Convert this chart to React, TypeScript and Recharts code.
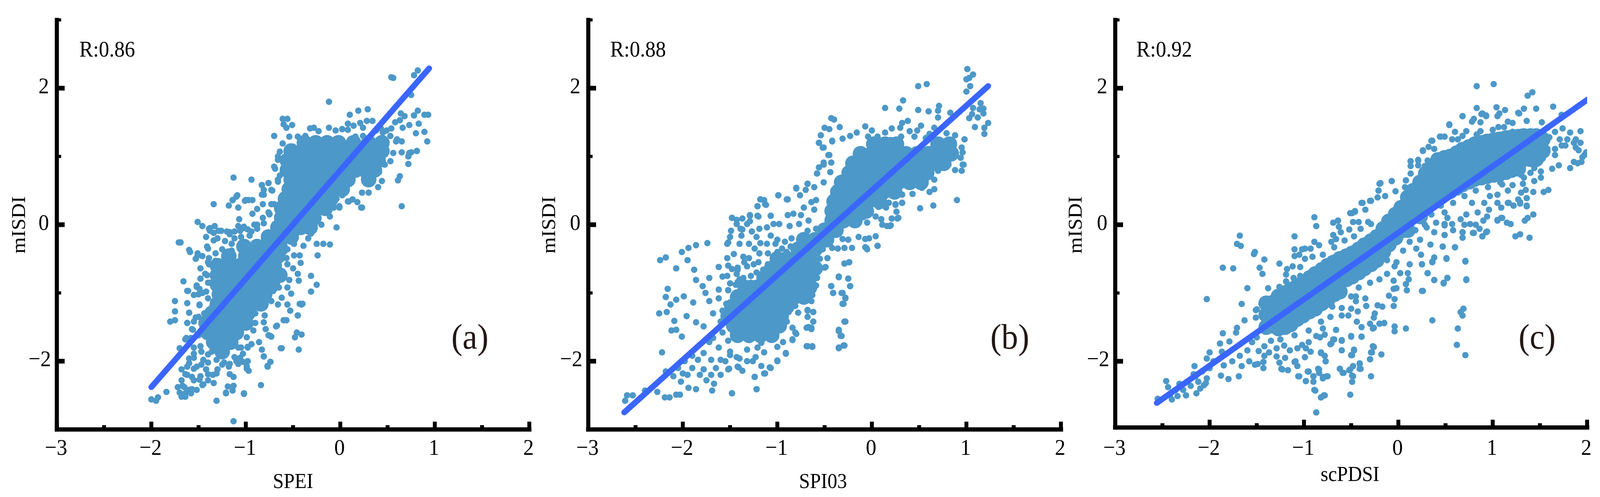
import React from 'react';
import { ScatterChart, Scatter, XAxis, YAxis } from 'recharts';

const BLACK = '#000000';
const DOT = '#4c98c8';
const LINE = '#3a66ff';
const FONT = '"Liberation Serif", serif';
const SQUEEZE = 0.93;
const xTicks = [-3, -2.5, -2, -1.5, -1, -0.5, 0, 0.5, 1, 1.5, 2];
const yTicks = [-3, -2, -1, 0, 1, 2, 3];
const xMajor = [-3, -2, -1, 0, 1, 2];
const yMajor = [-2, 0, 2];

const speiLine = [[-2, -2.38], [0.94, 2.29]];
const spi03Line = [[-2.62, -2.75], [1.23, 2.03]];
const scpdsiLine = [[-2.56, -2.61], [2, 1.83]];

const speiCoreRows: [number, number[]][] = [
  [1.2, [-0.38, -0.26, -0.14, -0.02, 0.14, 0.3, 0.44]],
  [1.08, [-0.52, -0.4, -0.28, -0.16, -0.04, 0.08, 0.2, 0.32, 0.44]],
  [0.94, [-0.56, -0.44, -0.32, -0.2, -0.08, 0.04, 0.16, 0.28, 0.4]],
  [0.8, [-0.56, -0.44, -0.32, -0.2, -0.08, 0.04, 0.16, 0.26, 0.36]],
  [0.66, [-0.52, -0.4, -0.28, -0.16, -0.04, 0.08, 0.3]],
  [0.52, [-0.54, -0.42, -0.3, -0.18, -0.06, 0.02]],
  [0.38, [-0.58, -0.46, -0.34, -0.22, -0.1]],
  [0.24, [-0.62, -0.5, -0.38, -0.26, -0.16]],
  [0.1, [-0.62, -0.5, -0.38, -0.28]],
  [-0.04, [-0.66, -0.54, -0.42, -0.32]],
  [-0.18, [-0.76, -0.64, -0.52]],
  [-0.32, [-1.02, -0.88, -0.76, -0.64]],
  [-0.46, [-1.18, -1.0, -0.88, -0.76, -0.66]],
  [-0.6, [-1.3, -1.18, -1.06, -0.94, -0.82, -0.7]],
  [-0.74, [-1.3, -1.2, -1.08, -0.96, -0.84, -0.72, -0.64]],
  [-0.88, [-1.3, -1.18, -1.06, -0.94, -0.82, -0.72]],
  [-1.02, [-1.28, -1.16, -1.04, -0.92, -0.8]],
  [-1.16, [-1.3, -1.18, -1.06, -0.94, -0.84]],
  [-1.3, [-1.36, -1.3, -1.18, -1.06, -0.98]],
  [-1.44, [-1.42, -1.36, -1.24, -1.12, -1.0]],
  [-1.58, [-1.4, -1.34, -1.22, -1.1]],
  [-1.72, [-1.34, -1.28, -1.16]],
  [-1.86, [-1.25]],
];
const spi03CoreRows: [number, number[]][] = [
  [1.18, [0.02, 0.14, 0.26, 0.7, 0.82]],
  [1.04, [-0.12, 0.0, 0.12, 0.24, 0.36, 0.48, 0.6, 0.72, 0.84]],
  [0.9, [-0.2, -0.08, 0.04, 0.16, 0.28, 0.4, 0.52, 0.64, 0.76]],
  [0.76, [-0.24, -0.12, 0, 0.12, 0.24, 0.36, 0.48, 0.58]],
  [0.62, [-0.32, -0.2, -0.08, 0.04, 0.16, 0.28, 0.4, 0.52]],
  [0.48, [-0.36, -0.24, -0.12, 0, 0.12, 0.24]],
  [0.34, [-0.4, -0.28, -0.16, -0.04, 0.08]],
  [0.2, [-0.42, -0.3, -0.18, -0.06]],
  [0.06, [-0.42, -0.3, -0.18]],
  [-0.08, [-0.5, -0.38]],
  [-0.22, [-0.72, -0.6, -0.48]],
  [-0.36, [-0.78, -0.66, -0.6]],
  [-0.5, [-1.0, -0.9, -0.78, -0.66]],
  [-0.64, [-1.06, -0.94, -0.82, -0.7, -0.6]],
  [-0.78, [-1.14, -1.02, -0.9, -0.78, -0.66]],
  [-0.92, [-1.34, -1.22, -1.1, -0.98, -0.86, -0.74, -0.66]],
  [-1.06, [-1.42, -1.3, -1.18, -1.06, -0.94, -0.82, -0.72]],
  [-1.2, [-1.48, -1.36, -1.24, -1.12, -1.0, -0.9]],
  [-1.34, [-1.52, -1.4, -1.28, -1.16, -1.04, -0.96]],
  [-1.48, [-1.46, -1.34, -1.22, -1.1, -0.98]],
  [-1.62, [-1.42, -1.3, -1.18, -1.06]],
];
const scpdsiCoreCols: [number, number[]][] = [
  [-1.4, [-1.15, -1.32, -1.5]],
  [-1.33, [-1.14, -1.31, -1.48]],
  [-1.27, [-1.05, -1.22, -1.39, -1.52]],
  [-1.2, [-1.0, -1.17, -1.34, -1.5]],
  [-1.14, [-0.95, -1.12, -1.29, -1.46]],
  [-1.07, [-0.9, -1.07, -1.24, -1.38]],
  [-1.01, [-0.85, -1.02, -1.19, -1.33]],
  [-0.94, [-0.78, -0.95, -1.12, -1.27]],
  [-0.88, [-0.72, -0.89, -1.06, -1.23]],
  [-0.81, [-0.66, -0.83, -1.0, -1.15]],
  [-0.75, [-0.6, -0.77, -0.94, -1.1]],
  [-0.68, [-0.55, -0.72, -0.89, -1.02]],
  [-0.62, [-0.5, -0.67, -0.84, -0.98]],
  [-0.55, [-0.46, -0.63, -0.8]],
  [-0.49, [-0.42, -0.59, -0.76]],
  [-0.42, [-0.36, -0.53, -0.7]],
  [-0.36, [-0.3, -0.47, -0.64]],
  [-0.29, [-0.24, -0.41, -0.58]],
  [-0.23, [-0.18, -0.35, -0.52]],
  [-0.16, [-0.06, -0.23, -0.4]],
  [-0.1, [0.05, -0.12, -0.29]],
  [-0.03, [0.15, -0.02, -0.19]],
  [0.03, [0.25, 0.08, -0.09]],
  [0.1, [0.4, 0.23, 0.06, -0.08]],
  [0.16, [0.5, 0.33, 0.16]],
  [0.23, [0.62, 0.45, 0.28, 0.12]],
  [0.29, [0.75, 0.58, 0.41, 0.24]],
  [0.36, [0.85, 0.68, 0.51, 0.34]],
  [0.42, [0.95, 0.78, 0.61, 0.44]],
  [0.49, [0.98, 0.81, 0.64, 0.47]],
  [0.55, [1.0, 0.83, 0.66, 0.49]],
  [0.62, [1.05, 0.88, 0.71, 0.54]],
  [0.68, [1.1, 0.93, 0.76, 0.59]],
  [0.75, [1.14, 0.97, 0.8, 0.63]],
  [0.81, [1.18, 1.01, 0.84, 0.67]],
  [0.88, [1.2, 1.03, 0.86, 0.69]],
  [0.94, [1.22, 1.05, 0.88, 0.71]],
  [1.01, [1.24, 1.07, 0.9, 0.73]],
  [1.07, [1.25, 1.08, 0.91, 0.74]],
  [1.14, [1.27, 1.1, 0.93, 0.77]],
  [1.2, [1.28, 1.11, 0.94, 0.8]],
  [1.27, [1.29, 1.12, 0.95, 0.82]],
  [1.33, [1.3, 1.13, 0.96]],
  [1.4, [1.3, 1.13, 0.96]],
  [1.46, [1.3, 1.13, 0.96]],
  [1.53, [1.25, 1.08]],
];

const speiPoints = [
  [0.82,2.26],[0.78,2.19],[0.54,2.16],[0.56,2.15],[0.75,1.9],[-0.12,1.8],[0.29,1.69],[0.19,1.67],[0.1,1.61],[0.82,1.67],[0.78,1.6],[0.64,1.63],[0.68,1.59],[0.89,1.61],[0.93,1.61],[0.34,1.52],[0.28,1.52],[0.21,1.49],[0.08,1.48],[0.08,1.39],[0.14,1.45],[0.24,1.42],[0.02,1.4],[0.58,1.5],[0.63,1.53],[0.73,1.46],[0.83,1.48],[0.66,1.42],[0.8,1.34],[0.89,1.36],[0.92,1.22],[0.81,1.08],[0.75,1.06],[0.72,0.89],[0.63,0.71],[0.61,0.65],[0.65,0.27],[0.22,0.25],[0.13,0.37],[0.08,0.34],[-0.07,0.25],[-0.01,0.27],
  [-0.84,-2.35],[-1.02,-2.48],[-1.13,-2.88],[-1.31,-2.58],[-1.21,-2.46],[-1.19,-2.37],[-1.13,-2.36],[-0.99,-2.11],[-0.77,-2.07],[-0.74,-2.01],[-0.81,-1.93],[-0.86,-1.72],
  [-1.71,-0.26],[-1.69,-0.26],[-1.51,0.04],[-1.13,0.69],[-0.94,0.66],[-1.34,0.3],[-1.18,0.28],[-1.1,0.41],[-1.14,0.36],[-1.01,0.35],[-0.97,0.36],[-0.83,0.58],[-0.76,0.61],[-0.81,0.51],[-0.83,0.44],[-1.6,-0.37],[-1.51,-0.42],[-1.66,-0.83],[-1.48,-0.79],[-1.62,-0.97],[-1.52,-0.91],[-1.75,-1.12],[-1.62,-1.15],[-1.49,-1.17],[-1.75,-1.27],[-1.6,-1.29],[-1.8,-1.42],[-1.75,-1.4],[-1.62,-1.44],[-1.5,-1.35],[-1.56,-1.54],[-1.64,-1.68],[-1.7,-1.81],[-1.84,-2.45],[-2,-2.56],[-1.93,-2.53],[-1.95,-2.58],
  [-1.72,-2.38],[-1.7,-2.46],[-1.64,-2.52],[-1.58,-2.47],[-1.52,-2.42],[-1.46,-2.35],[-1.68,-2.28],[-1.62,-2.2],[-1.55,-2.28],[-1.48,-2.22],[-1.4,-2.28],[-1.35,-2.2],[-1.3,-2.12],[-1.42,-2.12],[-1.52,-2.08],[-1.6,-2.03],[-1.68,-2.12],[-1.25,-2.05],[-1.18,-2.08],[-1.1,-2.0],[-1.06,-1.95],[-1.45,-1.98],[-1.55,-1.95],[-1.4,-1.9],[-0.98,-1.8],[-1.65,-2.38],[-1.6,-2.42],
  [-0.56,1.55],[-0.61,1.55],[-0.6,1.47],[-0.51,1.46],[-0.57,1.42],[-0.7,1.3],[-0.28,1.42],[-0.23,1.37],[-0.12,1.42],[-0.05,1.38],[0.38,1.38],[0.45,1.35],[0.6,1.25],
  [-1.46,-0.02],[-1.38,-0.05],[-1.34,-0.12],[-1.42,-0.18],[-1.3,-0.2],[-1.2,-0.1],[-1.12,-0.1],[-1.15,-0.28],[-1.02,-0.05],[-0.94,-0.1],[-0.88,0.0],[-0.82,0.1],[-0.75,0.15],[-0.7,0.3],[-1.4,-0.35],[-1.32,-0.42],[-1.4,-0.55],[-1.48,-0.64],[-1.5,-1.02],[-1.42,-0.98],[-1.38,-0.85],[-1.55,-1.42],[-1.58,-1.66],[-1.5,-1.62],[-1.55,-1.8],[-1.48,-1.78],[-0.72,0.5],[-0.66,0.66],[-0.7,0.85],[-0.66,1.0],
];
const speiEdge = [
  [-0.32,1.41],[-0.37,1.3],[-0.45,1.29],[-0.54,1.29],[-0.61,1.19],[-0.64,1.07],[-0.66,0.95],[-0.69,0.82],[-0.64,0.72],[-0.66,0.63],[-0.73,0.51],[-0.73,0.3],[-0.76,0.18],[-0.81,0.02],[-0.88,-0.06],[-0.98,-0.07],[-1.06,-0.09],[-1.17,-0.14],[-1.29,-0.09],[-1.38,-0.09],[-1.34,-0.23],[-1.41,-0.32],[-1.51,-0.45],[-1.59,-0.4],[-1.39,-0.49],[-1.39,-0.58],[-1.32,-0.53],[-1.41,-0.74],[-1.4,-0.85],[-1.49,-0.94],[-1.61,-0.97],[-1.55,-1.03],[-1.46,-1],[-1.4,-1.08],[-1.49,-1.18],[-1.36,-1.21],[-1.44,-1.3],[-1.6,-1.29],[-1.53,-1.36],[-1.62,-1.44],[-1.57,-1.53],[-1.63,-1.66],
  [-1.6,-1.96],[-1.55,-1.89],[-1.47,-1.86],[-1.36,-1.86],[-1.62,-2.08],[-1.55,-2.11],[-1.47,-2.05],[-1.4,-2.02],[-1.31,-1.98],[-1.23,-2.02],[-1.31,-2.18],[-1.4,-2.19],[-1.49,-2.27],[-1.57,-2.23],[-1.64,-2.19],[-1.34,-2.32],[-1.45,-2.34],[-1.57,-2.41],[-1.64,-2.47],[-1.58,-2.46],[-1.67,-2.36],[-1.68,-2.52],
  [-1.12,-1.94],[-1.17,-2.04],[-1.08,-1.8],[-0.99,-1.65],[-0.92,-1.55],[-0.9,-1.44],[-0.9,-1.3],[-0.8,-1.33],[-0.81,-1.43],[-0.82,-1.15],[-0.73,-1.12],[-0.66,-1.17],[-0.71,-0.97],[-0.65,-0.92],[-0.54,-0.81],[-0.6,-0.75],[-0.56,-0.92],[-0.52,-1.01],[-0.45,-0.72],[-0.5,-0.64],[-0.44,-0.82],[-0.56,-0.58],[-0.57,-0.49],[-0.56,-0.36],[-0.39,-0.31],[-0.49,-0.28],[-0.34,-0.2],[-0.31,-0.13],[-0.2,0],[-0.28,-0.02],[-0.11,0.12],[-0.07,0.26],[-0.01,0.25],[-0.04,0.38],[0.02,0.43],[0.09,0.34],[0.18,0.33],[0.23,0.25],[0.23,0.47],[0.3,0.47],[0.4,0.55],[0.44,0.64],[0.33,0.61],[0.41,0.77],[0.47,0.88],[0.53,0.93],[0.56,1.05],[0.65,1.22],[0.65,1.06],[0.73,1.05],[0.81,1.08],[0.72,1],[0.59,1.22],[0.53,1.3],[0.49,1.38],[0.54,1.41],[0.43,1.41],[0.24,1.3],[0.16,1.29],[0.02,1.4],
  [-0.76,0.61],[-0.83,0.58],[-0.81,0.44],[-0.82,0.3],[-0.75,0.16],[-0.88,0.23],[-0.93,0.36],[-0.93,0.16],[-0.91,0],[-1.09,0.43],[-1.14,0.36],[-1.08,0.25],[-1.07,0.08],[-1.08,-0.02],[-1.02,-0.03],[-1,0.36],[-1.33,-0.02],[-1.39,-0.06],[-1.26,-0.09],[-1.17,-0.11],[-1.46,-0.46],[-1.53,-0.5],[-1.43,-0.72],[-1.48,-0.79],[-1.52,-0.89],[-1.12,-0.2],[-1.22,-0.24],[-1.25,-0.36],[-1.15,-0.38],[-1.05,-0.18],[-0.96,-0.16],
  [-0.49,-0.45],[-0.43,-0.45],[-0.42,-0.56],[-0.59,-0.39],[-0.67,-1.48],[-0.6,-1.4],[-0.53,-1.26],[-0.45,-1.33],[-0.62,-1.07],[-0.56,-1.17],[-0.41,-1.17],[-0.46,-1.58],[-0.41,-1.61],[-0.48,-1.65],[-0.73,-1.64],[-0.76,-1.62],[-0.79,-1.53],[-0.62,-1.81],[-0.44,-1.83],[-0.83,-1.83],[-0.81,-1.93],[-0.74,-2.01],[-0.77,-2.08],[-0.94,-1.75],[-0.98,-1.79],[-1.05,-1.8],[-1.03,-1.89],[-0.98,-2],[-1.03,-2.01],[-1.08,-2.04],[-0.99,-2.08],[-0.97,-2.14],[-1.17,-2.19],[-1.13,-2.23],[-1.14,-2.43],[-1.21,-2.47],[-1.02,-2.47],
  [-0.31,-0.75],[-0.25,-0.88],[-0.31,-0.98],[-0.24,-0.45],[-0.25,-0.28],[-0.18,-0.28],[-0.11,-0.29],[-0.04,-0.04],[-0.43,-1.16],[-0.4,-1.16],[-0.45,-1.33],[-0.57,-1.4],[-0.68,-1.49],[-0.74,-1.63],[-0.63,-1.81],
];
const spi03Points = [
  [1.01,2.28],[1.07,2.2],[1.03,2.15],[1,2.13],[1.04,2.03],[1,1.95],[0.58,2.06],[0.49,2.03],[0.33,1.82],[0.14,1.71],[0.29,1.7],[0.49,1.68],[0.6,1.66],[0.71,1.74],[0.7,1.67],[0.7,1.57],[1.15,1.78],[1.07,1.71],[1.18,1.7],[1.14,1.69],[1.18,1.63],[1.06,1.62],[1.03,1.56],[1.12,1.57],[1.23,1.49],[1.09,1.43],[1.19,1.42],[1.19,1.33],[0.83,1.64],[0.98,1.25],[0.96,0.88],[0.9,0.36],[0.65,0.28],[0.51,0.24],[0.32,0.32],[0.25,0.3],[0.28,0.1],[0.2,-0.01],[0.06,-0.31],[-0.05,-0.36],[-0.07,-0.33],
  [-0.43,1.56],[-0.4,1.54],[-0.5,1.42],[-0.45,1.4],[-0.34,1.43],[-0.54,1.31],[-0.56,1.2],[-0.42,1.23],[-0.51,1.13],[-0.45,1.02],[-0.58,0.75],[-0.51,0.88],[-0.68,0.6],[-0.8,0.53],[-0.99,0.43],[-0.89,0.37],[-1.18,0.37],[-1.13,0.3],[-1.21,0.27],[-1.48,0.1],[-1.37,0.09],[-1.29,0.13],[-1.21,0.13],[-1.07,0.13],[-1.39,-0.06],[-1.52,-0.26],[-1.74,-0.27],[-1.86,-0.3],[-1.94,-0.34],[-2.01,-0.4],[-2.24,-0.52],[-2.18,-0.48],[-2.07,-0.64],[-1.95,-0.52],[-1.88,-0.66],[-1.86,-0.81],[-1.79,-0.9],[-2.16,-0.94],[-2.18,-1.06],[-2.07,-1.1],[-1.99,-1.05],[-2.25,-1.3],[-2.17,-1.28],[-2.13,-1.17],[-1.96,-1.34],[-1.89,-1.14],[-2.09,-1.41],[-2.07,-1.54],[-2.12,-1.55],[-2.01,-1.64],[-2.22,-1.87],[-1.86,-1.43],[-1.78,-1.49],
  [-2.61,-2.58],[-2.59,-2.5],[-2.53,-2.5],[-2.4,-2.43],[-2.27,-2.45],[-2.19,-2.53],[-2.14,-2.53],[-2.07,-2.49],[-2.03,-2.49],[-1.94,-2.39],[-1.86,-2.41],[-1.69,-2.43],[-1.67,-2.33],[-1.48,-2.47],[-1.22,-2.41],[-1.24,-2.23],[-1.08,-2.09],[-1.13,-2.18],[-1,-1.99],[-0.91,-1.88],[-1.41,-2.09],[-1.52,-2.12],
  [-0.68,-1.78],[-0.63,-1.79],[-0.35,-1.81],[-0.3,-1.77],[-0.32,-1.63],[-0.35,-1.56],[-0.29,-1.42],[-0.31,-1.16],[-0.28,-1.07],[-0.32,-1],[-0.41,-1],[-0.43,-0.9],[-0.23,-0.9],[-0.25,-0.79],[-0.35,-0.77],[-0.24,-0.55],[-0.29,-0.57],[-0.49,-0.62],[-0.64,-1.51],[-0.69,-1.51],[-0.62,-1.28],[-0.68,-1.26],[-0.81,-1.58],[-0.84,-1.68],
  [-2.18,-2.15],[-2.1,-2.22],[-2.02,-2.3],[-1.95,-2.2],[-2.05,-2.1],[-1.98,-2.0],[-1.9,-2.1],[-1.82,-2.2],[-1.75,-2.28],[-1.78,-2.12],[-1.7,-2.2],[-1.65,-2.1],[-1.6,-1.98],[-1.7,-1.98],[-1.55,-2.0],[-1.6,-2.2],[-1.4,-1.96],[-1.32,-2.0],[-1.78,-1.88],[-1.62,-1.8],[-1.5,-1.86],[-1.68,-1.66],[-1.58,-1.58],[-1.52,-1.7],[-1.6,-1.42],[-1.68,-1.3],[-1.58,-1.26],[-1.72,-1.12],[-1.62,-1.08],[-1.54,-1.16],[-1.76,-1.0],[-1.62,-0.95],[-1.52,-0.96],[-1.72,-0.78],[-1.58,-0.76],[-1.5,-0.86],[-1.62,-0.62],[-1.52,-0.6],[-1.42,-0.66],[-1.4,-0.8],
  [-1.35,-0.55],[-1.2,-0.55],[-1.1,-0.58],[-1.02,-0.55],[-0.92,-0.5],[-1.28,-0.75],[-1.15,-0.66],[-1.36,-0.78],[-1.42,-0.84],[-1.28,-0.85],[-1.02,-0.28],[-0.86,-0.32],[-1.24,-0.35],[-1.22,-0.18],[-1.9,-1.92],[-1.84,-1.98],[-2.0,-2.18],[-1.72,-1.72],
];
const spi03Edge = [
  [-0.56,1.2],[-0.52,1.13],[-0.46,1.02],[-0.42,1.22],[-0.31,1.26],[-0.23,1.3],[-0.16,1.35],[-0.07,1.44],[0,1.38],[-0.04,1.29],[0.06,1.29],[0.14,1.35],[0.21,1.41],[0.2,1.24],[0.27,1.22],[0.31,1.29],[0.32,1.49],[0.38,1.52],[0.4,1.37],[0.3,1.42],[0.48,1.38],[0.52,1.45],[0.45,1.29],[0.57,1.27],[0.66,1.42],[0.61,1.33],[0.79,1.34],[0.88,1.31],[0.98,1.25],[0.95,1.13],[0.96,1.06],[0.94,0.98],[0.97,0.88],[0.95,0.79],[0.88,0.8],[0.81,0.88],[0.74,0.93],[0.7,0.79],[0.66,0.66],[0.66,0.52],[0.61,0.48],[0.53,0.54],[0.43,0.45],[0.32,0.44],[0.24,0.45],[0.18,0.32],[0.15,0.25],[0.07,0.26],[-0.01,0.19],[-0.09,0.11],[-0.05,0.03],[0.04,0.12],[0.1,0.08],[0.11,0],[0.19,-0.02],[0.16,-0.02],[0.21,0.09],[0.27,0.09],[0.26,0.19],[0.25,0.29],[0.32,0.32],[0.04,-0.17],[-0.03,-0.2],[-0.07,-0.21],[-0.14,-0.18],[-0.25,-0.22],[-0.31,-0.21],[-0.42,-0.14],[-0.47,-0.25],[-0.52,-0.36],[-0.47,-0.49],[-0.55,-0.5],[-0.5,-0.63],[-0.58,-0.78],[-0.59,-0.89],[-0.63,-1.03],[-0.64,-1.12],[-0.76,-1.08],[-0.81,-1.19],[-0.78,-1.29],[-0.88,-1.28],[-0.9,-1.42],[-0.84,-1.51],[-0.8,-1.6],[-0.84,-1.69],[-0.94,-1.72],[-1,-1.79],[-0.91,-1.89],[-1.08,-1.66],[-1.17,-1.73],[-1.21,-1.8],[-1.14,-1.87],[-1.23,-1.94],[-1.26,-2],[-1,-2],[-1.17,-2.07],[-1.14,-2.18],[-1.07,-2.1],[-1.24,-2.23],[-1.22,-2.41],[-1.48,-2.47],[-1.42,-2.08],[-1.37,-2.14],[-1.51,-2.11],[-1.43,-1.94],[-1.32,-1.83],[-1.5,-1.91],[-1.3,-1.69],
  [-0.51,0.91],[-0.56,0.84],[-0.58,0.75],[-0.43,0.91],[-0.44,0.77],[-0.51,0.62],[-0.61,0.55],[-0.68,0.6],[-0.7,0.51],[-0.8,0.54],[-0.76,0.43],[-0.64,0.33],[-0.72,0.25],[-0.61,0.22],[-0.59,0.36],[-0.9,0.37],[-0.99,0.43],[-1.14,0.36],[-1.18,0.37],[-1.12,0.29],[-1.21,0.27],[-1.07,0.13],[-1.2,0.12],[-1.29,0.14],[-1.29,0.05],[-1.32,0.01],[-1.43,0.07],[-1.43,0.01],[-1.48,0.1],[-0.89,0.14],[-0.83,0.16],[-0.75,0.14],[-0.77,0.01],[-0.67,0.06],[-0.87,-0.02],[-0.98,0.01],[-1.04,0.01],[-1.11,-0.04],[-1.19,-0.06],[-1.27,-0.1],[-1.37,-0.07],[-1.38,-0.16],[-1.49,-0.09],[-1.5,-0.18],[-1.53,-0.28],[-1.4,-0.28],[-1.3,-0.28],[-1.18,-0.27],[-1.11,-0.28],[-1.07,-0.16],[-1,-0.22],[-0.92,-0.25],[-0.85,-0.2],[-0.76,-0.18],[-0.68,-0.09],[-0.59,-0.06],[-0.95,-0.35],[-0.9,-0.4],[-1,-0.4],[-1.1,-0.42],[-1.19,-0.42],[-1.3,-0.49],[-1.36,-0.47],[-1.46,-0.43],[-1.53,-0.49],[-1.42,-0.63],[-1.48,-0.65],[-1.43,-0.72],[-1.53,-0.75],[-1.44,-0.88],[-1.52,-0.96],[-1.32,-0.61],[-1.22,-0.7],[-1.25,-0.58],
  [-0.68,-1.25],[-0.62,-1.28],[-0.68,-1.35],[-0.62,-1.42],[-0.67,-1.5],[-0.64,-1.53],[-0.43,-0.9],[-0.41,-1],[-0.35,-0.76],[-0.25,-0.79],[-0.23,-0.9],[-0.31,-1],[-0.28,-1.08],[-0.3,-1.16],[-0.28,-1.42],[-0.35,-1.54],[-0.33,-1.63],[-0.35,-1.8],[-0.29,-1.77],[-0.69,-1.78],[-0.63,-1.78],[-0.24,-0.55],[-0.29,-0.57],[-0.42,-0.34],[-0.36,-0.35],[-0.29,-0.34],[-0.21,-0.34],[-0.06,-0.34],[0.06,-0.31],
];
const scpdsiPoints = [
  [1.01,2.06],[0.83,2.03],[1.42,1.94],[1.37,1.89],[0.83,1.71],[1.04,1.72],[1.13,1.68],[0.68,1.59],[0.88,1.62],[0.93,1.6],[1.64,1.73],[1.33,1.7],[1.46,1.7],[1.27,1.64],[1.73,1.61],[0.54,1.46],[0.36,1.23],[0.45,1.29],[0.26,1.08],[0.13,0.93],[0.21,0.95],[-0.19,0.61],[-0.07,0.64],[-0.21,0.5],[0.08,0.65],[-0.38,0.32],[-0.29,0.35],[-0.46,0.2],[-0.49,0.17],[-0.64,0.06],[-0.69,0.03],[-0.89,0.11],[-0.87,-0.02],[-1.1,-0.17],[-1.68,-0.16],[-1.71,-0.28],[-1.67,-0.31],[-1.52,-0.4],[-1.53,-0.43],[-1.42,-0.51],[-1.86,-0.63],[-1.75,-0.64],[-1.47,-0.63],[-1.44,-0.72],[-1.26,-0.57],[-1.6,-0.93],[-2.03,-1.09],[-1.66,-1.16],[-1.5,-1.24],[-1.51,-1.36],[-1.63,-1.4],[-1.71,-1.51],[-1.86,-1.59],[-1.72,-1.58],[-1.89,-1.74],[-1.79,-1.71],[-2,-1.87],[-2.03,-1.96],[-2.16,-2.07],[-1.87,-1.86],
  [-2.55,-2.55],[-2.46,-2.29],[-2.44,-2.38],[-2.4,-2.56],[-2.34,-2.51],[-2.25,-2.5],[-2.14,-2.47],[-2.32,-2.33],[-2.24,-2.3],[-2.06,-2.35],[-2.03,-2.25],[-2.17,-2.19],[-1.88,-2.21],[-1.8,-2.26],[-1.69,-2.22],[-1.66,-2.07],[-1.58,-2],[-1.43,-2.1],[-1.49,-2.04],
  [-0.87,-2.75],[-0.78,-2.5],[-0.82,-2.53],[-0.88,-2.43],[-0.51,-2.49],[-0.49,-2.3],[-0.29,-2.22],[-0.98,-2.29],[-1.05,-2.22],[-0.9,-2.22],[-0.8,-2.23],[-0.75,-2.22],[-0.84,-2.12],[-0.62,-2.11],[-0.58,-2.17],[-0.51,-2.12],[-0.49,-2.21],[-0.4,-2.11],[-0.41,-2.03],[-1.17,-2.13],[-1.23,-2.12],[-1.09,-2],[-0.95,-2.15],[-0.77,-2],[-0.82,-1.87],[-0.49,-1.91],[-0.47,-1.84],[-0.6,-1.7],[-0.6,-1.84],[-0.71,-1.74],[-0.68,-1.68],[-0.5,-1.64],[-0.39,-1.64],[-0.26,-1.79],[-0.28,-1.87],[-0.3,-1.97],[-0.18,-1.9],
  [0.71,-1.91],[0.62,-1.76],[0.63,-1.52],[0.69,-1.23],[0.66,-1.28],[0.68,-1.33],[0.36,-1.4],[0.08,-1.52],[-0.04,-1.49],[-0.04,-1.56],[-0.15,-1.44],[-0.2,-1.45],[-0.26,-1.51],[0.26,-0.97],[0.48,-0.85],[0.52,-0.78],[0.38,-0.81],[0.72,-0.81],[0.71,-0.54],[0.31,-0.71],[0.51,-0.5],[0.36,-0.54],[0.25,-0.58],[0.47,-0.32],[0.6,-0.33],[0.49,-0.15],
  [1.24,-0.17],[1.29,-0.14],[1.39,-0.19],[1.19,0.01],[1.15,0.03],[1.05,0.06],[1.1,0.1],[1.34,0.06],[1.37,0.1],[1.43,0.15],[1.36,0.27],[1.29,0.31],[1.16,0.32],[1.22,0.28],[1.05,0.32],[0.89,-0.17],[0.93,-0.11],[0.79,-0.12],[0.68,-0.11],[0.49,0.01],[1.54,0.48],[1.59,0.51],[1.43,0.48],[1.36,0.39],[1.27,0.37],[1.82,0.83],[1.7,0.87],[1.63,0.82],[1.9,0.9],[1.94,0.92],[1.97,1.02],[1.91,1.09],[1.93,1.37],[1.82,1.35],[1.74,1.41],[1.86,1.2],[1.77,1.16],[1.66,1.02],[1.53,0.97],[1.51,0.69],[1.32,0.6],[1.44,0.64],
  [-2.42,-2.5],[-2.36,-2.42],[-2.28,-2.42],[-2.2,-2.36],[-2.12,-2.3],[-2.1,-2.4],[-2.04,-2.32],[-2.15,-2.22],[-2.08,-2.15],[-2,-2.1],[-1.96,-2],[-1.85,-2.06],[-1.76,-2.0],[-1.68,-1.92],[-1.6,-1.84],[-1.55,-1.72],[-1.48,-1.85],[-1.42,-1.92],
];
const scpdsiEdge = [
  [-1.51,-1.25],[-1.45,-1.16],[-1.38,-0.93],[-1.26,-0.91],[-1.19,-0.83],[-1.11,-0.78],[-1.04,-0.75],[-1.04,-0.62],[-1.12,-0.61],[-1.19,-0.73],[-1.18,-0.65],[-1.1,-0.46],[-1.1,-0.36],[-1.05,-0.44],[-0.99,-0.5],[-1.02,-0.36],[-0.99,-0.35],[-0.93,-0.35],[-0.89,-0.25],[-0.84,-0.3],[-0.91,-0.47],[-0.8,-0.44],[-0.72,-0.5],[-0.71,-0.25],[-0.69,-0.15],[-0.66,-0.21],[-0.57,-0.23],[-0.68,-0.33],[-0.47,-0.17],[-0.52,-0.07],[-0.61,-0.11],[-0.63,-0.03],[-0.64,0.06],[-0.48,0.04],[-0.42,0.04],[-0.4,-0.06],[-0.51,0.17],[-0.46,0.19],[-0.32,0.04],[-0.29,0.01],[-0.35,0.22],[-0.3,0.35],[-0.39,0.32],[-0.22,0.4],[-0.21,0.5],[-0.2,0.6],[-0.07,0.64],[-0.14,0.42],[-0.03,0.49],[0.08,0.65],[0.07,0.55],[0.13,0.75],[0.13,0.93],[0.13,0.86],[0.21,0.94],[0.21,0.87],[0.28,0.86],[0.26,1.09],[0.32,1.14],[0.31,0.94],[0.35,1.23],[0.44,1.29],[0.49,1.29],[0.38,1.11],[0.54,1.47],[0.6,1.36],[0.57,1.25],[0.63,1.25],[0.68,1.59],[0.68,1.3],[0.72,1.37],[0.78,1.51],[0.8,1.55],[0.87,1.5],[0.89,1.63],[0.93,1.59],[0.87,1.37],[0.83,1.32],[1,1.39],[1.06,1.43],[1.12,1.43],[1.16,1.51],[1.21,1.49],[1.05,1.59],[1.07,1.63],[1.28,1.63],[1.36,1.52],[1.3,1.36],[1.21,1.36],
  [1.09,0.1],[1.05,0.07],[1.36,0.28],[1.22,0.28],[1.17,0.32],[1.29,0.33],[1.3,0.47],[1.09,0.25],[1.05,0.44],[1.1,0.59],[1.16,0.5],[1.21,0.58],[1.3,0.73],
  [0.96,0.22],[0.94,0.12],[0.94,-0.1],[0.89,-0.17],[0.9,0.06],[0.84,0.18],[0.86,-0.06],[0.8,-0.12],[0.82,0],[0.76,0.01],[0.72,0.15],[0.68,-0.19],[0.68,-0.11],[0.7,0],[0.66,0.08],[0.78,0.32],[0.91,0.32],[0.97,0.42],
  [0.6,-0.33],[0.58,-0.08],[0.49,-0.15],[0.49,-0.01],[0.57,0.01],[0.52,0.1],[0.49,0.18],[0.4,0.03],[0.38,-0.11],[0.34,-0.29],[0.47,-0.32],[0.51,-0.49],[0.38,-0.48],[0.36,-0.55],[0.71,-0.53],[0.72,-0.8],[0.52,-0.78],[0.48,-0.86],[0.38,-0.81],[0.31,-0.71],[0.25,-0.58],[0.25,-0.97],[0.24,-0.44],[0.23,-0.22],[0.3,-0.04],[0.28,0],[0.19,-0.35],[0.12,-0.58],[0.1,-0.71],[0.11,-0.8],[0.08,-0.87],[0.09,-0.96],[0.02,-0.71],[-0.04,-0.61],[-0.05,-0.82],[-0.02,-0.93],[-0.05,-0.94],[-0.1,-1.04],[-0.04,-1.09],[-0.05,-1.19],[-0.17,-1.2],[-0.22,-1.18],[-0.25,-1.3],[-0.26,-1.36],[-0.15,-1.44],[-0.2,-1.45],[-0.27,-1.52],[-0.3,-1.45],[-0.39,-1.5],[-0.44,-1.42],
  [-0.34,-1.19],[-0.35,-1.08],[-0.45,-1.12],[-0.45,-1.05],[-0.43,-1.27],[-0.5,-1.23],[-0.53,-1.33],[-0.6,-1.33],[-0.66,-1.54],[-0.8,-1.52],[-0.78,-1.61],[-0.83,-1.65],[-0.87,-1.63],[-0.95,-1.72],[-0.69,-1.68],[-0.72,-1.75],[-0.6,-1.69],[-0.5,-1.63],[-0.39,-1.64],[-0.47,-1.83],[-0.5,-1.91],[-0.27,-1.78],[-0.29,-1.87],[-0.3,-1.97],[-0.41,-2.04],[-0.41,-2.11],[-0.48,-2.07],[-0.52,-2.13],[-0.62,-2.11],[-0.59,-2.17],[-0.48,-2.22],
  [-0.77,-2],[-0.82,-1.88],[-0.78,-1.92],[-0.85,-2.11],[-0.84,-2.17],[-0.76,-2.22],[-0.8,-2.25],[-0.9,-2.22],[-0.9,-2.3],[-0.98,-2.29],[-1.06,-2.22],[-0.96,-2.15],[-1.24,-2.11],[-1.07,-2.07],[-1.1,-2.01],[-0.99,-1.94],[-1.26,-2.02],[-1.29,-1.93],[-1.2,-1.95],[-1.43,-2.01],[-1.52,-2.05],[-1.37,-1.87],[-1.15,-1.84],[-1.29,-1.81],[-1.21,-1.77],[-1.07,-1.81],[-1.02,-1.76],[-0.98,-1.81],[-0.93,-1.86],[-0.89,-2.42],[-0.82,-2.53],[-0.79,-2.5],
  [-1.35,-1.7],[-1.25,-1.68],[-1.42,-1.78],[-1.5,-1.65],[-1.1,-1.62],[-0.95,-1.55],[-0.82,-1.42],[-0.72,-1.35],[-0.6,-1.22],[-0.7,-1.2],[-0.5,-1.05],[-0.42,-0.92],[-0.3,-0.85],[-0.2,-0.8],[-0.12,-0.72],[-0.02,-0.55],[-0.12,-0.52],[0.05,-0.38],[0.12,-0.25],[0.18,-0.08],[0.25,0.08],[0.35,0.15],[0.45,0.28],[0.58,0.32],[0.7,0.42],[0.82,0.5],[0.95,0.55],[1.08,0.62],
  [1.51,1.25],[1.66,1.36],[1.58,1.11],[1.71,1.25],[1.79,1.25],[1.66,1.11],[1.73,1.16],[1.49,0.92],[1.44,0.83],[1.51,0.78],[1.4,0.76],[1.33,0.69],[1.35,0.51],[1.88,1.25],[1.93,1.2],[1.88,1.13],[1.86,0.92],[1.99,1.06],[1.95,0.99],[1.58,1.42],[1.52,1.5],[1.6,1.28],
];

const rowsToPairs = (rows: [number, number[]][]) => rows.flatMap(([y, xs]) => xs.map((x) => [x, y]));
const colsToPairs = (cols: [number, number[]][]) => cols.flatMap(([x, ys]) => ys.map((y) => [x, y]));
const pts = (pairs: number[][]) => pairs.map(([x, y]) => ({ x, y }));

const fmt = (v: number) => (v < 0 ? '\u2212' + Math.abs(v) : String(v));

const Label = ({ x, y, size, anchor, rotate, fill, children }: any) => (
  <text
    x={0} y={0}
    transform={`translate(${x} ${y}) scale(${SQUEEZE} 1)${rotate ? ' rotate(-90)' : ''}`}
    textAnchor={anchor || 'start'} fontFamily={FONT} fontSize={size} fill={fill || BLACK}
  >{children}</text>
);

const XTick = ({ x, y, payload, labelDy }: any) => {
  const major = xMajor.includes(payload.value);
  const h = major ? 15 : 6;
  return (
    <g>
      <rect x={x - 5} y={y - 5 - h} width={10} height={h + 1} fill={BLACK} />
      {major && <Label x={x - 2} y={y + labelDy} size={58} anchor="middle">{fmt(payload.value)}</Label>}
    </g>
  );
};
const YTick = ({ x, y, payload }: any) => {
  const major = yMajor.includes(payload.value);
  const w = major ? 15 : 6;
  return (
    <g>
      <rect x={x + 4} y={y - (major ? 6 : 4)} width={w + 1} height={major ? 12 : 8} fill={BLACK} />
      {major && <Label x={payload.value < 0 ? x - 15 : x - 20} y={y + 13} size={58} anchor="end">{fmt(payload.value)}</Label>}
    </g>
  );
};

const Dot = ({ cx, cy }: any) => <circle cx={cx} cy={cy} r={8.2} fill={DOT} />;
const CoreDot = ({ cx, cy }: any) => <circle cx={cx} cy={cy} r={20} fill={DOT} />;
const NoDot = () => null;

type PanelProps = {
  left: number; plotLeft: number; plotRight: number; plotBottom: number; yMin: number; width: number;
  core: number[][]; points: number[][]; line: number[][];
  xName: string; xNameY: number; xNameX: number; yNameX: number; r: string; rX: number; tag: string; tagX: number;
};

const Panel = ({ left, plotLeft, plotRight, plotBottom, yMin, width, core, points, line, xName, xNameY, xNameX, yNameX, r, rX, tag, tagX }: PanelProps) => {
  const ticks = yMin < -2.99 ? yTicks : yTicks.filter((t) => t >= yMin);
  return (
    <div style={{ position: 'absolute', left, top: 0 }}>
      <ScatterChart width={width} height={1273} margin={{ top: 51, right: width - plotRight, bottom: 0, left: 0 }}>
        <XAxis
          type="number" dataKey="x" domain={[-3, 2]} ticks={xTicks} interval={0}
          height={1273 - plotBottom} allowDataOverflow
          axisLine={{ stroke: BLACK, strokeWidth: 11, strokeLinecap: 'square' }}
          tickLine={false} tickSize={0} tickMargin={0}
          tick={(p: any) => <XTick {...p} labelDy={1165 - plotBottom} />}
        />
        <YAxis
          type="number" dataKey="y" domain={[yMin, 3]} ticks={ticks} interval={0}
          width={plotLeft} allowDataOverflow
          axisLine={{ stroke: BLACK, strokeWidth: 10.5, strokeLinecap: 'square' }}
          tickLine={false} tickSize={0} tickMargin={0}
          tick={(p: any) => <YTick {...p} />}
        />
        <Scatter data={pts(core)} shape={CoreDot} isAnimationActive={false} />
        <Scatter data={pts(points)} shape={Dot} isAnimationActive={false} />
        <Scatter
          data={pts(line)} shape={NoDot} isAnimationActive={false}
          line={{ stroke: LINE, strokeWidth: 15, strokeLinecap: 'round' }}
        />
        <Label x={rX} y={145} size={57}>{r}</Label>
        <Label x={tagX} y={893} size={92} anchor="middle" fill="#231815">{tag}</Label>
        <Label x={xNameX} y={xNameY} size={54} anchor="middle">{xName}</Label>
        <Label x={yNameX} y={576} size={54} anchor="middle" rotate>mISDI</Label>
      </ScatterChart>
    </div>
  );
};

export default function App() {
  return (
    <div style={{ position: 'relative', margin: -8, width: 4096, height: 1273, background: '#fff', overflow: 'hidden' }}>
      <Panel left={0} width={1389} plotLeft={145.5} plotRight={1355} plotBottom={1100} yMin={-3}
        core={rowsToPairs(speiCoreRows)} points={[...speiPoints, ...speiEdge]} line={speiLine}
        xName="SPEI" xNameX={750} xNameY={1250} yNameX={64} r="R:0.86" rX={203} tag="(a)" tagX={1203} />
      <Panel left={1360} width={1390} plotLeft={146} plotRight={1356} plotBottom={1100} yMin={-3}
        core={rowsToPairs(spi03CoreRows)} points={[...spi03Points, ...spi03Edge]} line={spi03Line}
        xName="SPI03" xNameX={747} xNameY={1250} yNameX={61} r="R:0.88" rX={202} tag="(b)" tagX={1225} />
      <Panel left={2720} width={1376} plotLeft={135} plotRight={1343} plotBottom={1095} yMin={-2.97}
        core={colsToPairs(scpdsiCoreCols)} points={[...scpdsiPoints, ...scpdsiEdge]} line={scpdsiLine}
        xName="scPDSI" xNameX={736} xNameY={1232} yNameX={49} r="R:0.92" rX={189} tag="(c)" tagX={1215} />
    </div>
  );
}
